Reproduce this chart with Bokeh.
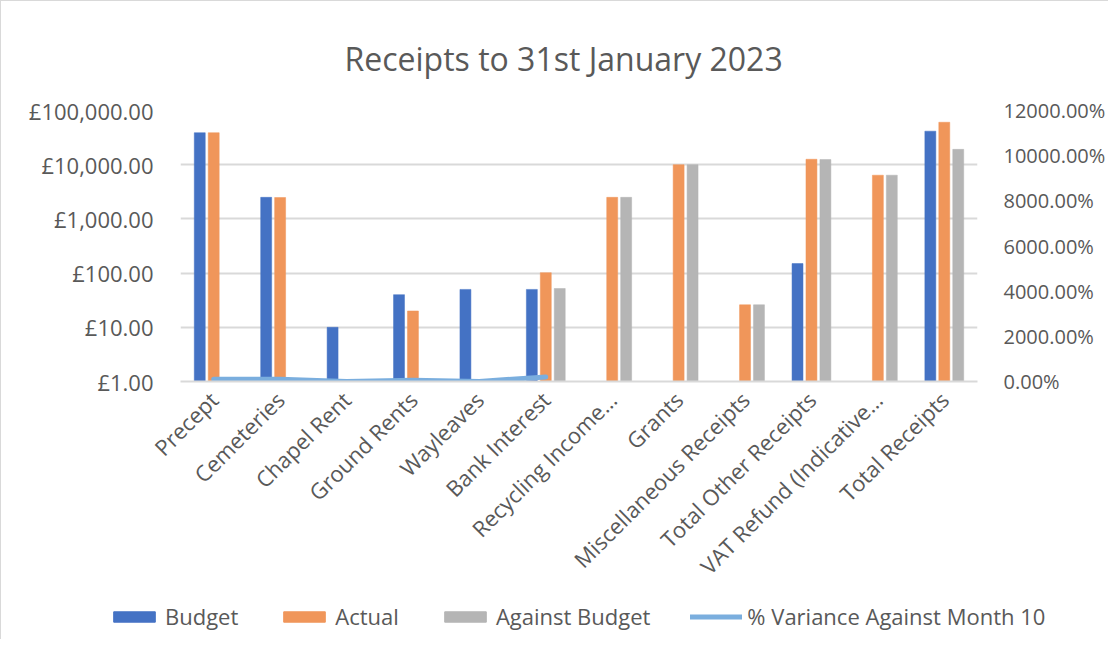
import math
from bokeh.plotting import figure
from bokeh.models import (ColumnDataSource, FactorRange, Range1d, LinearAxis, FixedTicker,
                          PrintfTickFormatter, Legend, LegendItem, LinearScale)
from bokeh.transform import dodge
from bokeh.embed import file_html
from bokeh.resources import INLINE

categories = ["Precept", "Cemeteries", "Chapel Rent", "Ground Rents", "Wayleaves", "Bank Interest",
              "Recycling Income\u2026", "Grants", "Miscellaneous Receipts", "Total Other Receipts",
              "VAT Refund (Indicative\u2026", "Total Receipts"]
budget = [38900, 2500, 10, 40, 50, 50, None, None, None, 150, None, 41500]
actual = [38900, 2480, None, 20, None, 102, 2500, 10000, 26, 12600, 6400, 60700]
against_budget = [None, None, None, None, None, 52, 2500, 10000, 26, 12450, 6400, 19200]
variance_pct = [100, 100, 0, 51, 0, 204, None, None, None, None, None, None]

left_ticks = [1, 10, 100, 1000, 10000, 100000]
left_labels = ["\u00a31.00", "\u00a310.00", "\u00a3100.00", "\u00a31,000.00", "\u00a310,000.00", "\u00a3100,000.00"]
right_ticks = [0, 2000, 4000, 6000, 8000, 10000, 12000]

FONT = "Open Sans"
TXT = "#595959"
GRID = "#d9d9d9"
FS = "22px"
C_B, C_A, C_G, C_L = "#4472c4", "#f0965a", "#b5b5b5", "#7aaede"


def src(vals):
    cats = [c for c, v in zip(categories, vals) if v is not None]
    vs = [v for v in vals if v is not None]
    return ColumnDataSource(dict(cat=cats, val=vs))


p = figure(frame_width=797, frame_height=271, x_range=FactorRange(*categories, range_padding=0),
           y_axis_type="log", y_range=Range1d(1, 100000),
           output_backend="svg", toolbar_location=None,
           min_border_left=179, min_border_right=124, min_border_top=109, min_border_bottom=258)
p.styles = {"border-left": "1px solid #d9d9d9", "border-top": "1px solid #d9d9d9"}
p.outline_line_color = None
p.background_fill_color = "white"

p.title.text = "Receipts to 31st January 2023"
p.title.align = "left"
p.title.offset = 164
p.title.text_font = FONT
p.title.text_font_size = "32px"
p.title.text_font_style = "normal"
p.title.text_color = TXT
p.title.standoff = 62

p.extra_y_ranges = {"pct": Range1d(0, 12000)}
p.extra_y_scales = {"pct": LinearScale()}

# left axis
ya = p.yaxis[0]
ya.ticker = FixedTicker(ticks=left_ticks)
ya.major_label_overrides = {t: l for t, l in zip(left_ticks, left_labels)}
ya.axis_line_color = None
ya.major_tick_line_color = None
ya.minor_tick_line_color = None
ya.major_label_text_font = FONT
ya.major_label_text_font_size = FS
ya.major_label_text_color = TXT
ya.major_label_standoff = 21

# right axis
ra = LinearAxis(y_range_name="pct", ticker=FixedTicker(ticks=right_ticks),
                formatter=PrintfTickFormatter(format="%.2f%%"))
ra.axis_line_color = None
ra.major_tick_line_color = None
ra.minor_tick_line_color = None
ra.major_label_text_font = FONT
ra.major_label_text_font_size = "20px"
ra.major_label_text_color = TXT
ra.major_label_standoff = 20
p.add_layout(ra, "right")

# x axis
xa = p.xaxis[0]
xa.axis_line_color = GRID
xa.axis_line_width = 2
xa.major_tick_line_color = None
xa.minor_tick_line_color = None
xa.major_label_orientation = math.pi / 4
xa.major_label_text_font = FONT
xa.major_label_text_font_size = FS
xa.major_label_text_color = TXT
xa.major_label_standoff = 8

p.xgrid.grid_line_color = None
p.ygrid.ticker = FixedTicker(ticks=left_ticks)
p.ygrid.grid_line_color = GRID
p.ygrid.grid_line_width = 2

bw = 0.165
off = 0.21
p.vbar(x=dodge("cat", -off, range=p.x_range), top="val", bottom=1, width=bw,
       source=src(budget), fill_color=C_B, line_color=C_B, line_width=0.5)
p.vbar(x=dodge("cat", 0, range=p.x_range), top="val", bottom=1, width=bw,
       source=src(actual), fill_color=C_A, line_color=C_A, line_width=0.5)
p.vbar(x=dodge("cat", off, range=p.x_range), top="val", bottom=1, width=bw,
       source=src(against_budget), fill_color=C_G, line_color=C_G, line_width=0.5)
p.line(x="cat", y="val", source=src(variance_pct), y_range_name="pct",
       line_color=C_L, line_width=5, line_cap="round", line_join="round")

# separate legend strip, placed over the bottom of the chart
lf = figure(width=1100, height=30, x_range=Range1d(0, 1), y_range=Range1d(0, 1),
            x_axis_location=None, y_axis_location=None, output_backend="svg",
            toolbar_location=None, min_border=0)
lf.grid.visible = False
lf.outline_line_color = None
lf.background_fill_alpha = 0
lf.border_fill_alpha = 0
lf.styles = {"position": "absolute", "left": "0px", "top": "602px"}
# legend proxies: drawn far outside the strip's visible range
lb = lf.vbar(x=[5], top=[5], bottom=[4], width=0.1, fill_color=C_B, line_color=C_B)
la = lf.vbar(x=[6], top=[5], bottom=[4], width=0.1, fill_color=C_A, line_color=C_A)
lg = lf.vbar(x=[7], top=[5], bottom=[4], width=0.1, fill_color=C_G, line_color=C_G)
ll = lf.line(x=[8, 9], y=[5, 5], line_color=C_L, line_width=5, line_cap="round")

legend = Legend(items=[LegendItem(label="Budget", renderers=[lb]),
                       LegendItem(label="Actual", renderers=[la]),
                       LegendItem(label="Against Budget", renderers=[lg]),
                       LegendItem(label="% Variance Against Month 10", renderers=[ll])],
                orientation="horizontal", location=(108, 1),
                glyph_width=52, glyph_height=13, label_standoff=5, spacing=40,
                label_text_font=FONT, label_text_font_size=FS, label_text_color=TXT,
                border_line_color=None, background_fill_alpha=0, padding=0, margin=0)
lf.add_layout(legend, "center")

open("out.html", "w").write(file_html([p, lf], INLINE))
